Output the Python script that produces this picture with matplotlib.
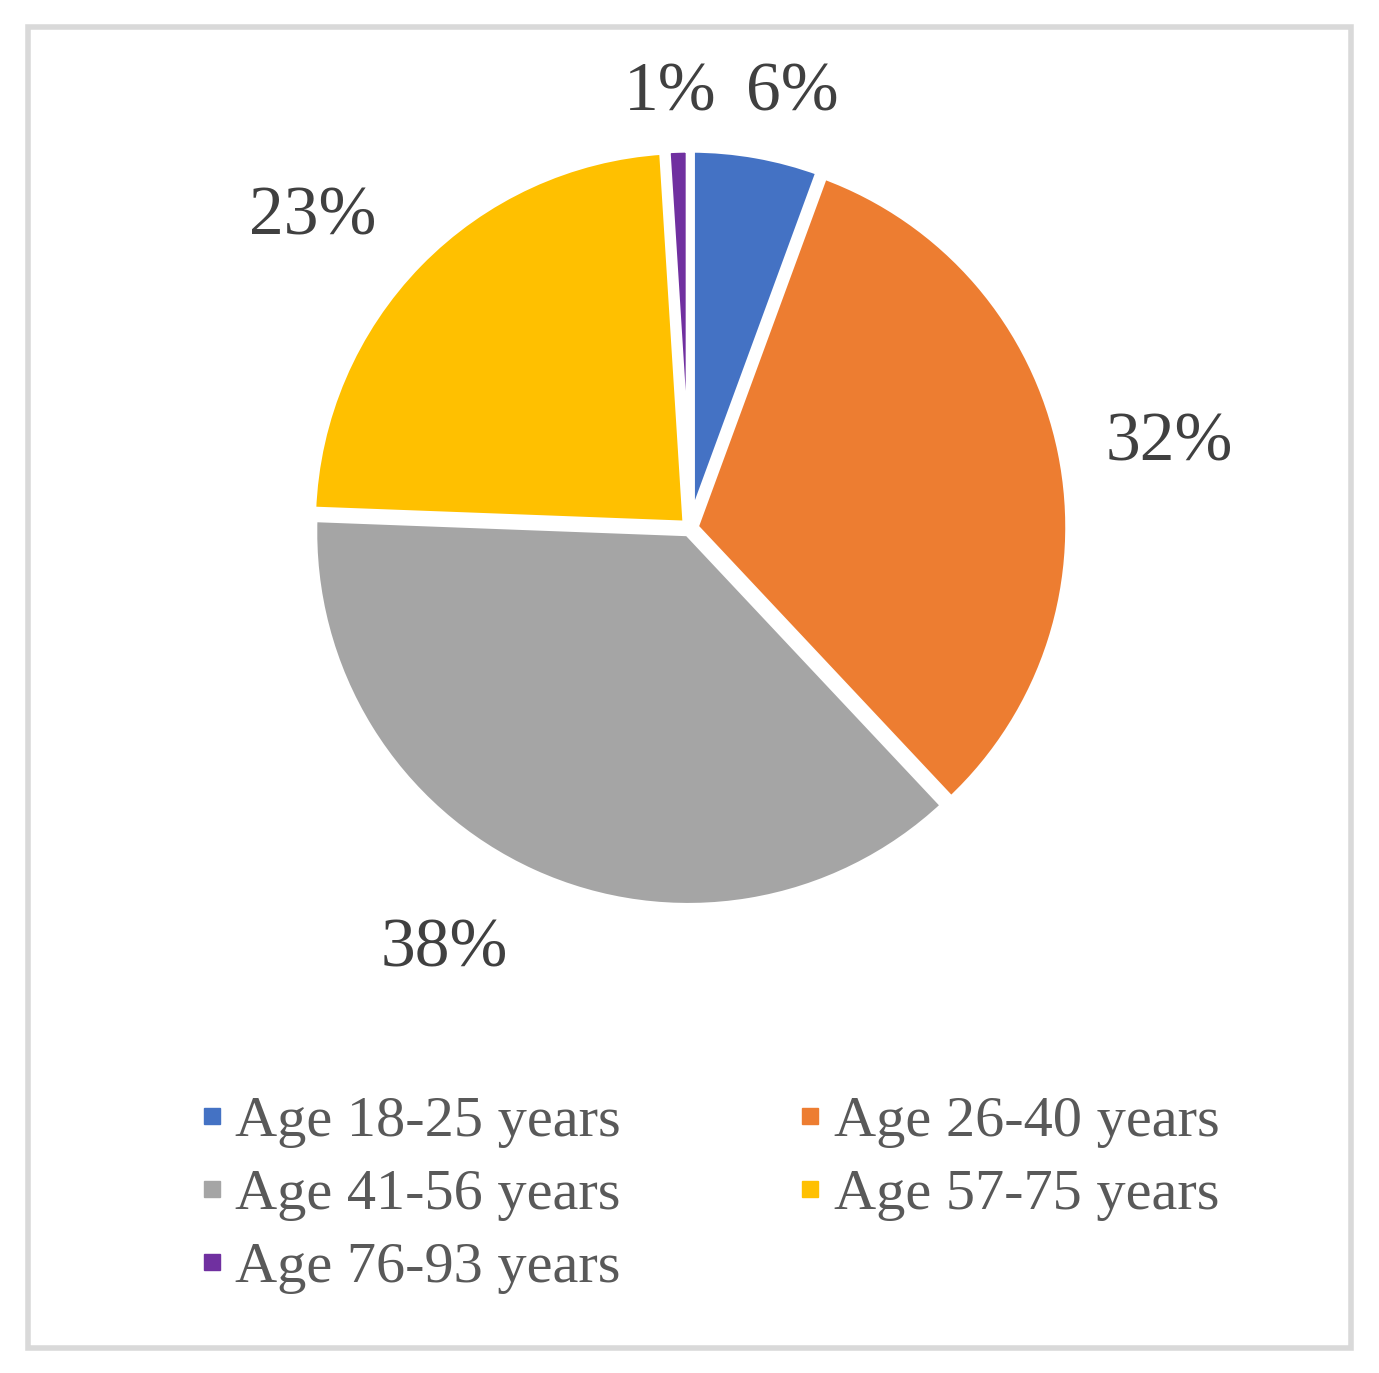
import matplotlib
matplotlib.use('Agg')
import matplotlib.pyplot as plt
from matplotlib.lines import Line2D
from matplotlib.patches import Rectangle
import numpy as np

plt.rcParams['font.family'] = ['Liberation Serif', 'DejaVu Serif']

groups = ['Age 18-25 years', 'Age 26-40 years', 'Age 41-56 years',
          'Age 57-75 years', 'Age 76-93 years']
shares = [5.6, 32.4, 37.6, 23.4, 1.0]
colors = ['#4472C4', '#ED7D31', '#A5A5A5', '#FFC000', '#7030A0']
# % label placement: distance from centre (radius = 1) and angle nudge (deg)
label_r = [1.2, 1.3, 1.29, 1.31, 1.17]
label_dang = [-3.0, -1.0, -6.0, 4.5, 0.8]

fig = plt.figure(figsize=(13.79, 13.73), dpi=100)
ax = fig.add_axes([0.2284, 0.3423, 0.5439, 0.5463])

wedges, _ = ax.pie(shares, colors=colors, startangle=90, counterclock=False,
                   explode=[0.012] * len(shares),
                   wedgeprops=dict(edgecolor='white', linewidth=6))
ax.set_xlim(-1, 1)
ax.set_ylim(-1, 1)
ax.set_aspect('equal')
ax.axis('off')

for w, s, r, da in zip(wedges, shares, label_r, label_dang):
    ang = np.deg2rad((w.theta1 + w.theta2) / 2 + da)
    ax.text(r * np.cos(ang), r * np.sin(ang) - 0.012, f'{s:.0f}%',
            ha='center', va='center', fontsize=50, color='#404040',
            clip_on=False)

handles = [Line2D([], [], marker='s', linestyle='none', markersize=11,
                  color=c) for c in colors]
order = [0, 2, 4, 1, 3]
fig.legend([handles[i] for i in order], [groups[i] for i in order],
           ncol=2, loc='upper left', bbox_to_anchor=(168 / 1379, 1 - 1066 / 1373),
           frameon=False, fontsize=42, labelcolor='#595959', borderpad=0,
           handlelength=0.5, handletextpad=0.15, labelspacing=0.35,
           columnspacing=3.0)

fig.patches.append(Rectangle((28 / 1379, 25 / 1373), 1 - 56 / 1379, 1 - 52 / 1373,
                             transform=fig.transFigure, fill=False,
                             edgecolor='#D9D9D9', linewidth=4))

fig.savefig('out.png', dpi=100, facecolor='white')
